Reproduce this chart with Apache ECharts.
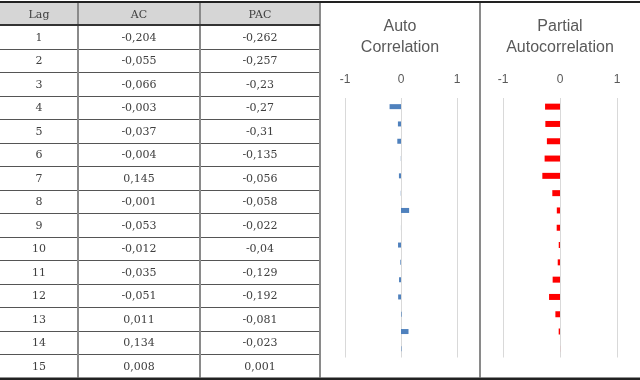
<!DOCTYPE html>
<html>
<head>
<meta charset="utf-8">
<script src="https://cdn.jsdelivr.net/npm/echarts@6/dist/echarts.min.js"></script>
<style>
  html,body{margin:0;padding:0;background:#fff;}
  #main{width:640px;height:380px;}
</style>
</head>
<body>
<div id="main"></div>
<script>
/* ACF / PACF table with two bar strips (lags 1..15) */
var lags = [1,2,3,4,5,6,7,8,9,10,11,12,13,14,15];
var acValues  = [-0.204,-0.055,-0.066,-0.003,-0.037,-0.004,0.145,-0.001,-0.053,-0.012,-0.035,-0.051,0.011,0.134,0.008];
var pacValues = [-0.262,-0.257,-0.23,-0.27,-0.31,-0.135,-0.056,-0.058,-0.022,-0.04,-0.129,-0.192,-0.081,-0.023,0.001];
var tableHeaders = ["Lag","AC","PAC"];
var chartTitles = ["Auto\nCorrelation","Partial\nAutocorrelation"];
var tickLabels = {"-1":"-1","0":"0","1":"1"};

var COL_X = [0, 78, 200, 320];
var HEAD_TOP = 3, ROW_TOP = 25, ROW_H = 23.5, TABLE_BOTTOM = 377.5;
var SERIF = "'DejaVu Serif',serif";
var SANS = "'Liberation Sans',Arial,sans-serif";

function fmtNum(v){ return String(v).replace(".", ","); }

function tableGraphics(){
  var els = [];
  // header background
  els.push({ type:"rect", shape:{x:0, y:HEAD_TOP, width:COL_X[3], height:ROW_TOP-HEAD_TOP},
    style:{fill:"#d6d6d6"}, z:1 });
  // row separators
  for(var i=1;i<lags.length;i++){
    var y = Math.round(ROW_TOP + i*ROW_H) + 0.5;
    els.push({ type:"line", shape:{x1:0, y1:y, x2:COL_X[3], y2:y},
      style:{stroke:"#555", lineWidth:1}, z:2 });
  }
  // column separators
  [COL_X[1], COL_X[2], COL_X[3], 480].forEach(function(x){
    els.push({ type:"line", shape:{x1:x, y1:HEAD_TOP, x2:x, y2:TABLE_BOTTOM},
      style:{stroke:"#8a8a8a", lineWidth:2}, z:2 });
  });
  // thick rules
  els.push({ type:"line", shape:{x1:0, y1:2, x2:640, y2:2}, style:{stroke:"#222", lineWidth:2}, z:3 });
  els.push({ type:"line", shape:{x1:0, y1:25, x2:COL_X[3], y2:25}, style:{stroke:"#333", lineWidth:2}, z:3 });
  els.push({ type:"line", shape:{x1:0, y1:379, x2:640, y2:379}, style:{stroke:"#222", lineWidth:3}, z:3 });
  // header text
  tableHeaders.forEach(function(h, c){
    els.push({ type:"text", z:4, style:{ text:h, x:(COL_X[c]+COL_X[c+1])/2, y:(HEAD_TOP+ROW_TOP)/2+1,
      fill:"#404040", font:"11px "+SERIF, textAlign:"center", textVerticalAlign:"middle" } });
  });
  // body text
  lags.forEach(function(lag, i){
    var cy = ROW_TOP + ROW_H*(i+0.5) + 1;
    [String(lag), fmtNum(acValues[i]), fmtNum(pacValues[i])].forEach(function(t, c){
      els.push({ type:"text", z:4, style:{ text:t, x:(COL_X[c]+COL_X[c+1])/2, y:cy,
        fill:"#404040", font:"11px "+SERIF, textAlign:"center", textVerticalAlign:"middle" } });
    });
  });
  // chart titles
  [400, 560].forEach(function(cx, k){
    els.push({ type:"text", z:4, style:{ text:chartTitles[k], x:cx, y:16, lineHeight:21,
      fill:"#595959", font:"16px "+SANS, textAlign:"center", textVerticalAlign:"top" } });
  });
  return els;
}

function valueAxis(idx){
  return {
    type:"value", gridIndex:idx, min:-1, max:1, interval:1, position:"top",
    axisLine:{show:false}, axisTick:{show:false},
    axisLabel:{ color:"#595959", fontSize:12, fontFamily:SANS, margin:12,
      formatter:function(v){ return tickLabels[String(v)] || String(v); } },
    splitLine:{ lineStyle:{color:"#d9d9d9", width:1} }
  };
}
function lagAxis(idx){
  return { type:"category", gridIndex:idx, data:lags, inverse:true, show:false };
}

var ch = echarts.init(document.getElementById("main"), null, {renderer:"canvas"});
ch.setOption({
  animation:false,
  backgroundColor:"#fff",
  grid:[
    { left:345, width:112, top:98, height:259.5, containLabel:false },
    { left:503, width:114, top:98, height:259.5, containLabel:false }
  ],
  xAxis:[ valueAxis(0), valueAxis(1) ],
  yAxis:[ lagAxis(0), lagAxis(1) ],
  series:[
    { type:"bar", name:"AC", xAxisIndex:0, yAxisIndex:0, data:acValues, barWidth:5,
      itemStyle:{color:"#4f81bd"}, emphasis:{disabled:true} },
    { type:"bar", name:"PAC", xAxisIndex:1, yAxisIndex:1, data:pacValues, barWidth:6,
      itemStyle:{color:"#ff0000"}, emphasis:{disabled:true} }
  ],
  graphic:{ elements: tableGraphics() }
});
</script>
</body>
</html>
